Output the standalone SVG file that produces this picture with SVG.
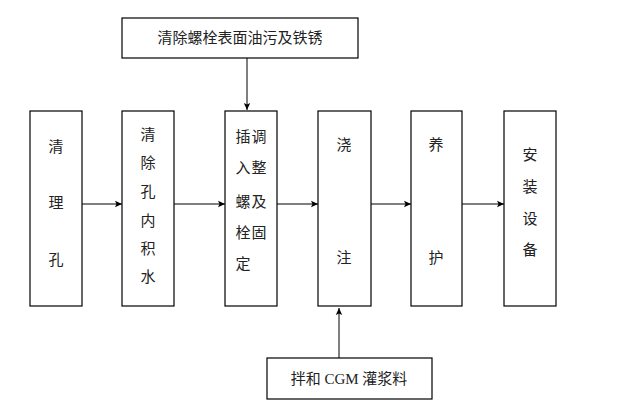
<svg xmlns="http://www.w3.org/2000/svg" width="618" height="417" viewBox="0 0 618 417">
<style>
.box{fill:#fff;stroke:#000;stroke-width:1.2}
.t{font-family:"Liberation Serif","Noto Sans CJK SC",serif;font-size:15px;fill:#222;text-anchor:middle;dominant-baseline:central}
.c{stroke:#000;stroke-width:1;fill:none;marker-end:url(#ah)}
</style>
<defs>
<marker id="ah" markerWidth="8" markerHeight="8" refX="7" refY="4" orient="auto" markerUnits="userSpaceOnUse">
<path d="M0,0.8 L7,4 L0,7.2 L1.5,4 Z" fill="#000"/>
</marker>
</defs>
<rect width="618" height="417" fill="#fff"/>
<g id="connectors">
<line class="c" x1="247" y1="58" x2="247" y2="110"/>
<line class="c" x1="82" y1="204" x2="122" y2="204"/>
<line class="c" x1="174" y1="204" x2="225" y2="204"/>
<line class="c" x1="277" y1="204" x2="318" y2="204"/>
<line class="c" x1="371" y1="204" x2="411" y2="204"/>
<line class="c" x1="462" y1="204" x2="504" y2="204"/>
<line class="c" x1="339" y1="358" x2="339" y2="308"/>
</g>
<g id="top">
<rect class="box" x="122" y="18" width="236" height="40"/>
<text class="t" x="240" y="38">清除螺栓表面油污及铁锈</text>
</g>
<g id="n1">
<rect class="box" x="30" y="111" width="52" height="195"/>
<text class="t" x="56" y="147">清</text>
<text class="t" x="56" y="203">理</text>
<text class="t" x="56" y="260">孔</text>
</g>
<g id="n2">
<rect class="box" x="122" y="111" width="52" height="195"/>
<text class="t" x="148" y="135">清</text>
<text class="t" x="148" y="163">除</text>
<text class="t" x="148" y="192">孔</text>
<text class="t" x="148" y="221">内</text>
<text class="t" x="148" y="249">积</text>
<text class="t" x="148" y="277">水</text>
</g>
<g id="n3">
<rect class="box" x="225" y="111" width="52" height="195"/>
<text class="t" x="243" y="137">插</text>
<text class="t" x="259" y="137">调</text>
<text class="t" x="243" y="168">入</text>
<text class="t" x="259" y="168">整</text>
<text class="t" x="243" y="202">螺</text>
<text class="t" x="259" y="202">及</text>
<text class="t" x="243" y="233">栓</text>
<text class="t" x="259" y="233">固</text>
<text class="t" x="243" y="264">定</text>
</g>
<g id="n4">
<rect class="box" x="318" y="111" width="53" height="195"/>
<text class="t" x="344" y="145">浇</text>
<text class="t" x="344" y="258">注</text>
</g>
<g id="n5">
<rect class="box" x="411" y="111" width="51" height="195"/>
<text class="t" x="436" y="145">养</text>
<text class="t" x="436" y="258">护</text>
</g>
<g id="n6">
<rect class="box" x="504" y="111" width="52" height="195"/>
<text class="t" x="530" y="155">安</text>
<text class="t" x="530" y="187">装</text>
<text class="t" x="530" y="219">设</text>
<text class="t" x="530" y="250">备</text>
</g>
<g id="bottom">
<rect class="box" x="267" y="358" width="165" height="41"/>
<text class="t" x="349" y="379">拌和 CGM 灌浆料</text>
</g>
</svg>
